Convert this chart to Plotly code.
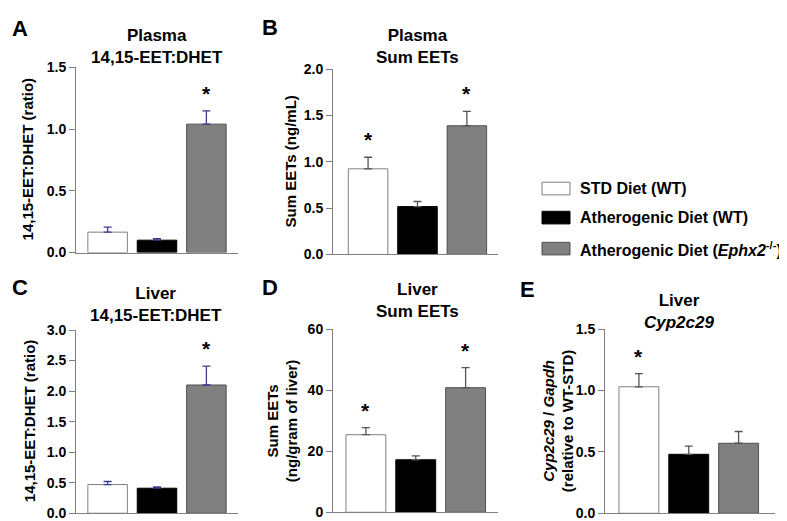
import plotly.graph_objects as go

# ---------------- data ----------------
groups = ["STD Diet (WT)", "Atherogenic Diet (WT)", "Atherogenic Diet (Ephx2-/-)"]
legend_labels = ["STD Diet (WT)", "Atherogenic Diet (WT)",
                 "Atherogenic Diet (<i>Ephx2</i><sup>-/-</sup>)"]

plasma_ratio = [0.165, 0.10, 1.04]
plasma_ratio_err = [0.04, 0.012, 0.107]
plasma_ratio_sig = [False, False, True]

plasma_eets = [0.925, 0.517, 1.39]
plasma_eets_err = [0.125, 0.055, 0.155]
plasma_eets_sig = [True, False, True]

liver_ratio = [0.47, 0.41, 2.10]
liver_ratio_err = [0.05, 0.02, 0.31]
liver_ratio_sig = [False, False, True]

liver_eets = [25.4, 17.2, 40.8]
liver_eets_err = [2.3, 1.3, 6.6]
liver_eets_sig = [True, False, True]

liver_cyp = [1.03, 0.48, 0.57]
liver_cyp_err = [0.107, 0.067, 0.096]
liver_cyp_sig = [True, False, False]

W, H = 787, 521
FONT = "Liberation Sans, Arial, sans-serif"
fill_colors = ["#ffffff", "#000000", "#808080"]
line_colors = ["#808080", "#000000", "#505050"]
AXC = "#808080"


def px(x, y):
    return x / W, 1 - y / H


panels = [
    dict(key="A", vals=plasma_ratio, err=plasma_ratio_err, sig=plasma_ratio_sig,
         xd=(68, 230), yd=(53, 244), yr=[0, 1.5], dt=0.5, fmt=".1f", xr=[-0.64, 2.64],
         ecol="#3b3b8f", title="Plasma<br>14,15-EET:DHET", tpos=(149, 31),
         ytitle="14,15-EET:DHET (ratio)", ytpos=(19, 148), lpos=(12, 13)),
    dict(key="B", vals=plasma_eets, err=plasma_eets_err, sig=plasma_eets_sig,
         xd=(325, 490), yd=(55, 246), yr=[0, 2.0], dt=0.5, fmt=".1f", xr=[-0.71, 2.63],
         ecol="#555555", title="Plasma<br>Sum EETs", tpos=(409, 31),
         ytitle="Sum EETs (ng/mL)", ytpos=(282, 150), lpos=(262, 12)),
    dict(key="C", vals=liver_ratio, err=liver_ratio_err, sig=liver_ratio_sig,
         xd=(68, 230), yd=(324, 513), yr=[0, 3.0], dt=0.5, fmt=".1f", xr=[-0.64, 2.64],
         ecol="#3b3b8f", title="Liver<br>14,15-EET:DHET", tpos=(148, 298),
         ytitle="14,15-EET:DHET (ratio)", ytpos=(21, 418), lpos=(12, 280)),
    dict(key="D", vals=liver_eets, err=liver_eets_err, sig=liver_eets_sig,
         xd=(325, 490), yd=(323, 512), yr=[0, 60], dt=20, fmt="d", xr=[-0.66, 2.65],
         ecol="#555555", title="Liver<br>Sum EETs", tpos=(409, 294),
         ytitle="Sum EETs<br>(ng/gram of liver)", ytpos=(274, 418), lpos=(262, 280)),
    dict(key="E", vals=liver_cyp, err=liver_cyp_err, sig=liver_cyp_sig,
         xd=(597, 767), yd=(323, 513), yr=[0, 1.5], dt=0.5, fmt=".1f", xr=[-0.68, 2.73],
         ecol="#555555", title="Liver<br><i>Cyp2c29</i>", tpos=(671, 305),
         ytitle="<i>Cyp2c29</i> / <i>Gapdh</i><br>(relative to WT-STD)", ytpos=(550, 418),
         lpos=(519, 282)),
]

fig = go.Figure()
annotations = []
shapes = []
layout = {}

for i, p in enumerate(panels):
    n = "" if i == 0 else str(i + 1)
    xa, ya = "x" + n, "y" + n
    fig.add_trace(go.Bar(
        x=[0, 1, 2], y=p["vals"], width=0.8,
        marker=dict(color=fill_colors, line=dict(color=line_colors, width=1)),
        error_y=dict(type="data", symmetric=False, array=p["err"], arrayminus=[0, 0, 0],
                     color=p["ecol"], thickness=1.3, width=4),
        xaxis=xa, yaxis=ya, showlegend=False, hoverinfo="skip",
    ))
    x0, _ = px(p["xd"][0], 0)
    x1, _ = px(p["xd"][1], 0)
    _, ytop = px(0, p["yd"][0])
    _, ybot = px(0, p["yd"][1])
    layout["xaxis" + n] = dict(
        domain=[x0, x1], range=p["xr"], anchor=ya, showticklabels=False, ticks="",
        showgrid=False, zeroline=False, showline=True, linecolor=AXC, linewidth=1,
        fixedrange=True)
    layout["yaxis" + n] = dict(
        domain=[ybot, ytop], range=p["yr"], anchor=xa, dtick=p["dt"], tick0=0,
        tickformat=p["fmt"], ticks="outside", ticklen=6, tickcolor=AXC, tickwidth=1,
        showgrid=False, zeroline=False, showline=True, linecolor=AXC, linewidth=1,
        tickfont=dict(family=FONT, size=14, color="#000000", weight="bold"),
        fixedrange=True)
    # significance stars
    for j, (v, e, s) in enumerate(zip(p["vals"], p["err"], p["sig"])):
        if s:
            annotations.append(dict(
                x=j, y=v + e, xref=xa, yref=ya, text="<b>*</b>", showarrow=False,
                yanchor="bottom", yshift=4,
                font=dict(family=FONT, size=21, color="#000000", weight="bold")))
    # panel title
    tx, ty = px(*p["tpos"])
    annotations.append(dict(
        x=tx, y=ty, xref="paper", yref="paper", text="<b>" + p["title"] + "</b>",
        showarrow=False, xanchor="center", yanchor="middle",
        font=dict(family=FONT, size=17, color="#000000", weight="bold")))
    # y title
    yx, yy = px(*p["ytpos"])
    annotations.append(dict(
        x=yx, y=yy, xref="paper", yref="paper", text="<b>" + p["ytitle"] + "</b>",
        showarrow=False, textangle=-90, xanchor="center", yanchor="middle",
        font=dict(family=FONT, size=15, color="#000000", weight="bold")))
    # panel letter
    lx, ly = px(*p["lpos"])
    annotations.append(dict(
        x=lx, y=ly, xref="paper", yref="paper", text="<b>" + p["key"] + "</b>",
        showarrow=False, xanchor="center", yanchor="middle",
        font=dict(family=FONT, size=22, color="#000000", weight="bold")))

# legend (manual)
leg_y = [178, 208, 240]
for lab, fc, lc, yc in zip(legend_labels, fill_colors, line_colors, leg_y):
    bx0, by0 = px(534, yc - 6.5)
    bx1, by1 = px(562, yc + 6.5)
    shapes.append(dict(type="rect", xref="paper", yref="paper", x0=bx0, x1=bx1,
                       y0=by1, y1=by0, fillcolor=fc, line=dict(color=lc, width=1)))
    tx, ty = px(570, yc)
    annotations.append(dict(
        x=tx, y=ty, xref="paper", yref="paper", text="<b>" + lab + "</b>",
        showarrow=False, xanchor="left", yanchor="middle",
        font=dict(family=FONT, size=16, color="#000000", weight="bold")))

fig.update_layout(
    width=W, height=H, margin=dict(l=0, r=0, t=0, b=0),
    paper_bgcolor="white", plot_bgcolor="white",
    annotations=annotations, shapes=shapes, bargap=0.2,
    **layout)

fig.write_html("out.html")
